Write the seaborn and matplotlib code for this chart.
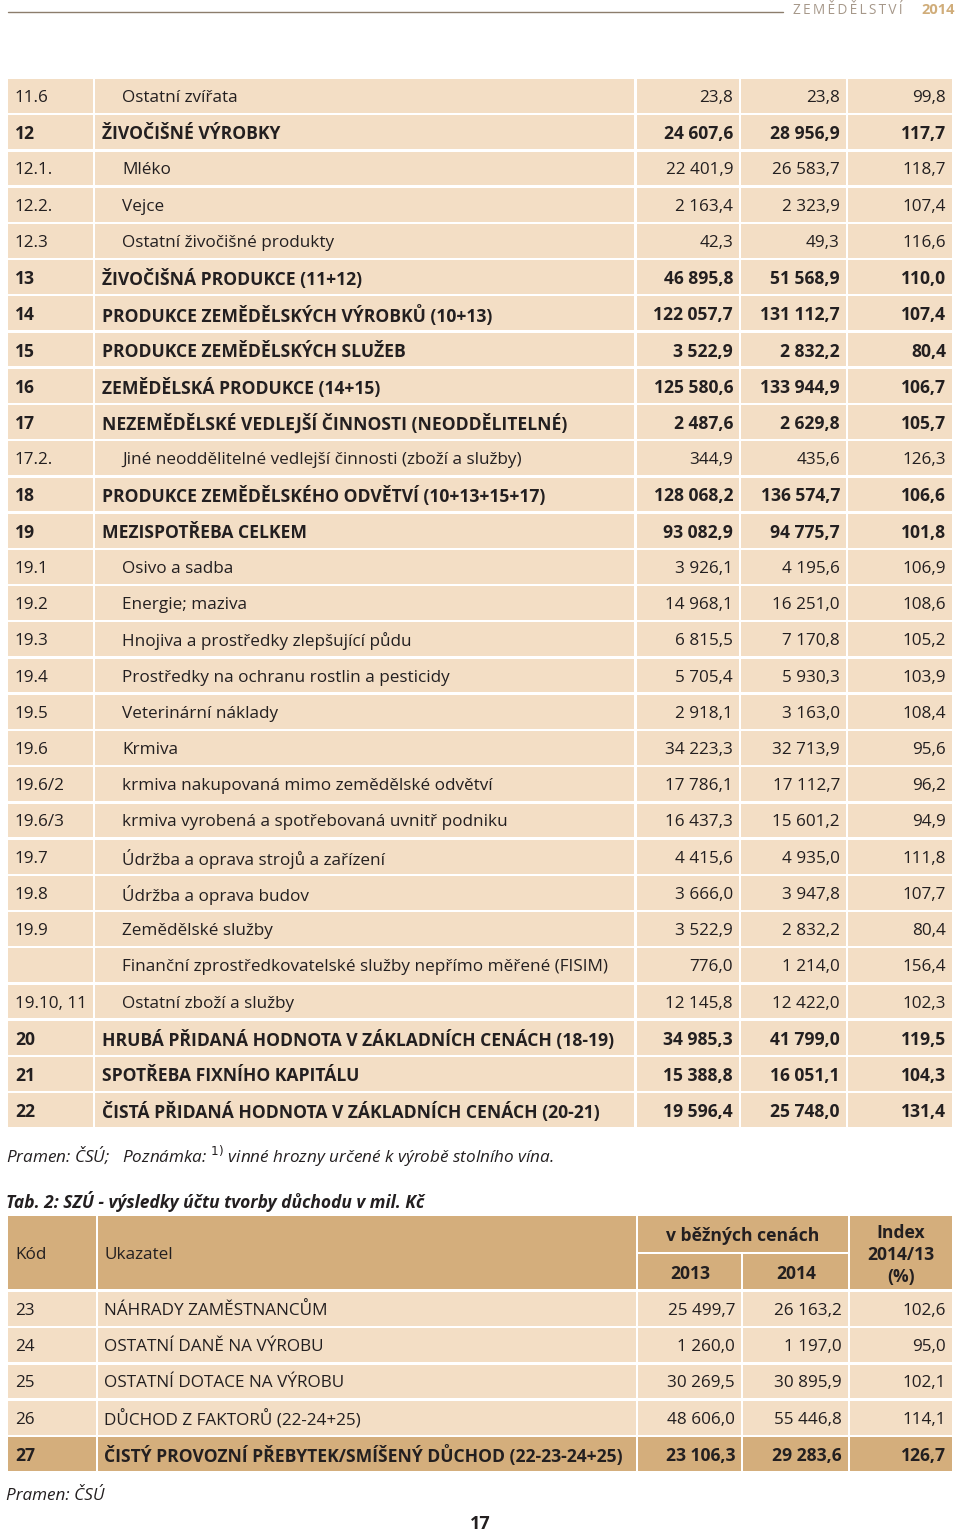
import numpy as np
import seaborn as sns
import matplotlib.pyplot as plt

# --- data: table 1 (continuation) ---
codes1 = ['11.6', '12', '12.1.', '12.2.', '12.3', '13', '14', '15', '16', '17', '17.2.', '18', '19',
          '19.1', '19.2', '19.3', '19.4', '19.5', '19.6', '19.6/2', '19.6/3', '19.7', '19.8', '19.9',
          '', '19.10, 11', '20', '21', '22']
labels1 = ['Ostatní zvířata',
           'ŽIVOČIŠNÉ VÝROBKY',
           'Mléko',
           'Vejce',
           'Ostatní živočišné produkty',
           'ŽIVOČIŠNÁ PRODUKCE (11+12)',
           'PRODUKCE ZEMĚDĚLSKÝCH VÝROBKŮ (10+13)',
           'PRODUKCE ZEMĚDĚLSKÝCH SLUŽEB',
           'ZEMĚDĚLSKÁ PRODUKCE (14+15)',
           'NEZEMĚDĚLSKÉ VEDLEJŠÍ ČINNOSTI (NEODDĚLITELNÉ)',
           'Jiné neoddělitelné vedlejší činnosti (zboží a služby)',
           'PRODUKCE ZEMĚDĚLSKÉHO ODVĚTVÍ (10+13+15+17)',
           'MEZISPOTŘEBA CELKEM',
           'Osivo a sadba',
           'Energie; maziva',
           'Hnojiva a prostředky zlepšující půdu',
           'Prostředky na ochranu rostlin a pesticidy',
           'Veterinární náklady',
           'Krmiva',
           'krmiva nakupovaná mimo zemědělské odvětví',
           'krmiva vyrobená a spotřebovaná uvnitř podniku',
           'Údržba a oprava strojů a zařízení',
           'Údržba a oprava budov',
           'Zemědělské služby',
           'Finanční zprostředkovatelské služby nepřímo měřené (FISIM)',
           'Ostatní zboží a služby',
           'HRUBÁ PŘIDANÁ HODNOTA V ZÁKLADNÍCH CENÁCH (18-19)',
           'SPOTŘEBA FIXNÍHO KAPITÁLU',
           'ČISTÁ PŘIDANÁ HODNOTA V ZÁKLADNÍCH CENÁCH (20-21)']
v2013_1 = ['23,8', '24 607,6', '22 401,9', '2 163,4', '42,3', '46 895,8', '122 057,7', '3 522,9',
           '125 580,6', '2 487,6', '344,9', '128 068,2', '93 082,9', '3 926,1', '14 968,1', '6 815,5',
           '5 705,4', '2 918,1', '34 223,3', '17 786,1', '16 437,3', '4 415,6', '3 666,0', '3 522,9',
           '776,0', '12 145,8', '34 985,3', '15 388,8', '19 596,4']
v2014_1 = ['23,8', '28 956,9', '26 583,7', '2 323,9', '49,3', '51 568,9', '131 112,7', '2 832,2',
           '133 944,9', '2 629,8', '435,6', '136 574,7', '94 775,7', '4 195,6', '16 251,0', '7 170,8',
           '5 930,3', '3 163,0', '32 713,9', '17 112,7', '15 601,2', '4 935,0', '3 947,8', '2 832,2',
           '1 214,0', '12 422,0', '41 799,0', '16 051,1', '25 748,0']
index1 = ['99,8', '117,7', '118,7', '107,4', '116,6', '110,0', '107,4', '80,4', '106,7', '105,7',
          '126,3', '106,6', '101,8', '106,9', '108,6', '105,2', '103,9', '108,4', '95,6', '96,2',
          '94,9', '111,8', '107,7', '80,4', '156,4', '102,3', '119,5', '104,3', '131,4']
bold1 = ['12', '13', '14', '15', '16', '17', '18', '19', '20', '21', '22']

# --- data: table 2 ---
codes2 = ['23', '24', '25', '26', '27']
labels2 = ['NÁHRADY ZAMĚSTNANCŮM',
           'OSTATNÍ DANĚ NA VÝROBU',
           'OSTATNÍ DOTACE NA VÝROBU',
           'DŮCHOD Z FAKTORŮ (22-24+25)',
           'ČISTÝ PROVOZNÍ PŘEBYTEK/SMÍŠENÝ DŮCHOD (22-23-24+25)']
v2013_2 = ['25 499,7', '1 260,0', '30 269,5', '48 606,0', '23 106,3']
v2014_2 = ['26 163,2', '1 197,0', '30 895,9', '55 446,8', '29 283,6']
index2 = ['102,6', '95,0', '102,1', '114,1', '126,7']
bold2 = ['27']

LIGHT = '#F3DEC5'
TAN = '#D4AE7C'
TXT = '#231F20'

sns.set_theme(style='white')
plt.rcParams['font.family'] = ['Open Sans', 'DejaVu Sans']

fig = plt.figure(figsize=(9.6, 15.33), dpi=100)
ax = fig.add_axes([0, 0, 1, 1])
ax.set_xlim(0, 960)
ax.set_ylim(1533, 0)
ax.axis('off')

FS = 12.3   # regular
FSB = 12.6  # bold
DY = 2.0    # nudge text down to sit in the cell middle


def draw_table(codes, labels, c13, c14, idx, bold, y0, cols, label_x, label_x_bold, bold_fill):
    n = len(codes)
    ys = y0 + np.arange(n) * 36.22
    fills = [bold_fill if c in bold else LIGHT for c in codes]
    for left, right in cols:
        ax.barh(ys, right - left, left=left, height=33.8, color=fills, linewidth=0)
    for i in range(n):
        b = codes[i] in bold
        w = 'bold' if b else 'normal'
        fs = FSB if b else FS
        y = ys[i] + DY
        ax.text(15, y, codes[i], fontsize=fs, fontweight=w, color=TXT, va='center')
        ax.text(label_x_bold if b else label_x, y, labels[i], fontsize=fs, fontweight=w,
                color=TXT, va='center')
        for (left, right), vals in zip(cols[2:], (c13, c14, idx)):
            ax.text(right - 6, y, vals[i], fontsize=fs, fontweight=w, color=TXT,
                    va='center', ha='right')


# header line
ax.plot([8, 783], [12, 12], color='#8C7D6C', lw=1.0)
ax.text(903, 10, '\u2009'.join('ZEMĚDĚLSTVÍ'), fontsize=9.8, color='#A6988A',
        va='center', ha='right')
ax.text(955, 10, '2014', fontsize=10.5, color='#D0AD7A', fontweight='bold', va='center', ha='right')

# table 1
cols1 = [(8, 93), (95, 634), (637, 739), (741, 846), (848, 952)]
draw_table(codes1, labels1, v2013_1, v2014_1, index1, bold1, 96, cols1, 122, 102, LIGHT)

ax.text(6, 1156, 'Pramen: ČSÚ;   Poznámka: $^{1)}$ vinné hrozny určené k výrobě stolního vína.',
        fontsize=12.3, style='italic', color=TXT, va='center')
ax.text(6, 1201, 'Tab. 2: SZÚ - výsledky účtu tvorby důchodu v mil. Kč',
        fontsize=12.5, style='italic', fontweight='bold', color=TXT, va='center')

# table 2 header
cols2 = [(8, 96), (98, 636), (638, 741), (743, 848), (850, 952)]
for left, right in [cols2[0], cols2[1], cols2[4]]:
    ax.barh(1252.5, right - left, left=left, height=73, color=TAN, linewidth=0)
ax.barh(1234, cols2[3][1] - cols2[2][0], left=cols2[2][0], height=36, color=TAN, linewidth=0)
for left, right in cols2[2:4]:
    ax.barh(1271.5, right - left, left=left, height=35, color=TAN, linewidth=0)
ax.text(15, 1255, 'Kód', fontsize=FS, color=TXT, va='center')
ax.text(104, 1255, 'Ukazatel', fontsize=FS, color=TXT, va='center')
ax.text((cols2[2][0] + cols2[3][1]) / 2, 1236, 'v běžných cenách', fontsize=FSB, fontweight='bold',
        color=TXT, va='center', ha='center')
ax.text(690, 1274, '2013', fontsize=FSB, fontweight='bold', color=TXT, va='center', ha='center')
ax.text(796, 1274, '2014', fontsize=FSB, fontweight='bold', color=TXT, va='center', ha='center')
ax.text(901, 1255, 'Index\n2014/13\n(%)', fontsize=FSB, fontweight='bold', color=TXT,
        va='center', ha='center', linespacing=1.32)

draw_table(codes2, labels2, v2013_2, v2014_2, index2, bold2, 1309, cols2, 104, 104, TAN)

ax.text(6, 1496, 'Pramen: ČSÚ', fontsize=12.3, style='italic', color=TXT, va='center')
ax.text(480, 1524, '17', fontsize=13, fontweight='bold', color=TXT, va='center', ha='center')

fig.savefig('out.png', dpi=100)
